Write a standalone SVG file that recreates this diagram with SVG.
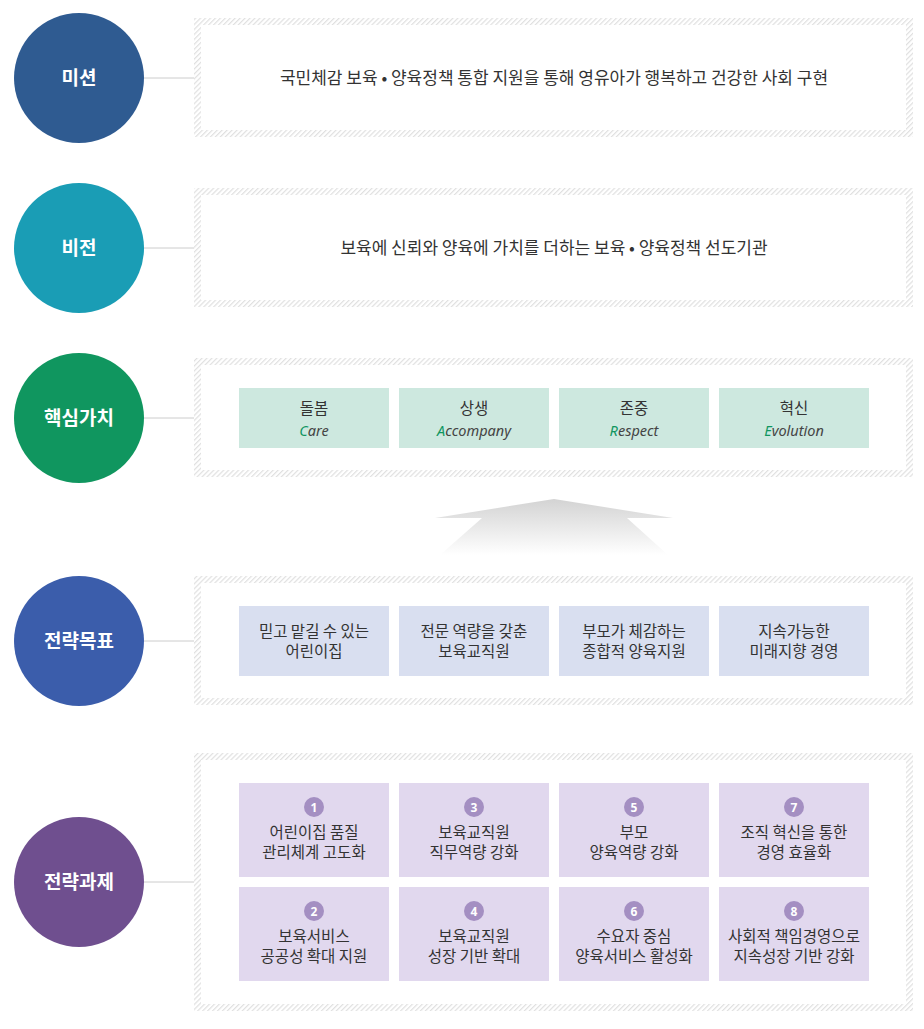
<svg xmlns="http://www.w3.org/2000/svg" width="924" height="1029" viewBox="0 0 924 1029">
<defs>
<pattern id="hatch" width="3.5" height="3.5" patternUnits="userSpaceOnUse" patternTransform="rotate(45)">
<rect width="3.5" height="3.5" fill="#ffffff"/>
<rect width="1.2" height="3.5" fill="#e0e0e0"/>
</pattern>
<linearGradient id="arrowGrad" x1="0" y1="0" x2="0" y2="1">
<stop offset="0" stop-color="#d3d3d3"/>
<stop offset="1" stop-color="#ffffff"/>
</linearGradient>
<style>
.ct{font-family:"Noto Sans CJK KR","Noto Sans",sans-serif;font-size:19px;font-weight:700;fill:#ffffff;text-anchor:middle}
.pt{font-family:"Noto Sans CJK KR","Noto Sans",sans-serif;font-size:17px;fill:#333333;text-anchor:middle}
.bt{font-family:"Noto Sans CJK KR","Noto Sans",sans-serif;font-size:15.5px;fill:#333333;text-anchor:middle}
.et{font-family:"Noto Sans","Open Sans",sans-serif;font-size:14.5px;font-style:italic;fill:#444444;text-anchor:middle}
.g{fill:#10965f}
.nt{font-family:"Noto Sans","Noto Sans CJK KR",sans-serif;font-size:12px;font-weight:700;fill:#ffffff;text-anchor:middle}
.inner{fill:#ffffff}
.conn{stroke:#cccccc;stroke-width:1;fill:none}
.vb{fill:#cde8df}
.gb{fill:#d9dff0}
.tb{fill:#e1d8ee}
.badge{fill:#a48fc2}
</style>
</defs>

<g id="connectors">
<line class="conn" x1="144" y1="78" x2="194" y2="78"/>
<line class="conn" x1="144" y1="248" x2="194" y2="248"/>
<line class="conn" x1="144" y1="418" x2="194" y2="418"/>
<line class="conn" x1="144" y1="641" x2="194" y2="641"/>
<line class="conn" x1="144" y1="882" x2="194" y2="882"/>
</g>

<g id="arrow">
<polygon points="554,499 673,518 627,518 668,555 440,555 482,518 435,518" fill="url(#arrowGrad)"/>
</g>

<g id="mission">
<circle cx="79" cy="78" r="65" fill="#2f5b91"/>
<text class="ct" x="79" y="85">미션</text>
<rect x="194" y="18" width="719" height="119" fill="url(#hatch)"/>
<rect class="inner" x="201" y="25" width="705" height="105"/>
<text class="pt" x="554" y="84">국민체감 보육 • 양육정책 통합 지원을 통해 영유아가 행복하고 건강한 사회 구현</text>
</g>

<g id="vision">
<circle cx="79" cy="248" r="65" fill="#1a9db5"/>
<text class="ct" x="79" y="255">비전</text>
<rect x="194" y="188" width="719" height="119" fill="url(#hatch)"/>
<rect class="inner" x="201" y="195" width="705" height="105"/>
<text class="pt" x="554" y="254">보육에 신뢰와 양육에 가치를 더하는 보육 • 양육정책 선도기관</text>
</g>

<g id="core-values">
<circle cx="79" cy="418" r="65" fill="#10965f"/>
<text class="ct" x="79" y="425">핵심가치</text>
<rect x="194" y="358" width="719" height="119" fill="url(#hatch)"/>
<rect class="inner" x="201" y="365" width="705" height="105"/>
<g id="value-care">
<rect class="vb" x="239" y="388" width="150" height="60"/>
<text class="bt" x="314" y="414">돌봄</text>
<text class="et" x="314" y="436"><tspan class="g">C</tspan>are</text>
</g>
<g id="value-accompany">
<rect class="vb" x="399" y="388" width="150" height="60"/>
<text class="bt" x="474" y="414">상생</text>
<text class="et" x="474" y="436"><tspan class="g">A</tspan>ccompany</text>
</g>
<g id="value-respect">
<rect class="vb" x="559" y="388" width="150" height="60"/>
<text class="bt" x="634" y="414">존중</text>
<text class="et" x="634" y="436"><tspan class="g">R</tspan>espect</text>
</g>
<g id="value-evolution">
<rect class="vb" x="719" y="388" width="150" height="60"/>
<text class="bt" x="794" y="414">혁신</text>
<text class="et" x="794" y="436"><tspan class="g">E</tspan>volution</text>
</g>
</g>

<g id="strategic-goals">
<circle cx="79" cy="641" r="65" fill="#3b5dab"/>
<text class="ct" x="79" y="648">전략목표</text>
<rect x="194" y="576" width="719" height="129" fill="url(#hatch)"/>
<rect class="inner" x="201" y="583" width="705" height="115"/>
<g id="goal-1">
<rect class="gb" x="239" y="606" width="150" height="70"/>
<text class="bt" x="314" y="637">믿고 맡길 수 있는</text>
<text class="bt" x="314" y="657">어린이집</text>
</g>
<g id="goal-2">
<rect class="gb" x="399" y="606" width="150" height="70"/>
<text class="bt" x="474" y="637">전문 역량을 갖춘</text>
<text class="bt" x="474" y="657">보육교직원</text>
</g>
<g id="goal-3">
<rect class="gb" x="559" y="606" width="150" height="70"/>
<text class="bt" x="634" y="637">부모가 체감하는</text>
<text class="bt" x="634" y="657">종합적 양육지원</text>
</g>
<g id="goal-4">
<rect class="gb" x="719" y="606" width="150" height="70"/>
<text class="bt" x="794" y="637">지속가능한</text>
<text class="bt" x="794" y="657">미래지향 경영</text>
</g>
</g>

<g id="strategic-tasks">
<circle cx="79" cy="882" r="65" fill="#6f4f8f"/>
<text class="ct" x="79" y="889">전략과제</text>
<rect x="194" y="753" width="719" height="258" fill="url(#hatch)"/>
<rect class="inner" x="201" y="760" width="705" height="244"/>
<g id="task-1">
<rect class="tb" x="239" y="783" width="150" height="94"/>
<circle class="badge" cx="314" cy="807" r="10"/>
<text class="nt" x="314" y="811.5">1</text>
<text class="bt" x="314" y="838">어린이집 품질</text>
<text class="bt" x="314" y="858">관리체계 고도화</text>
</g>
<g id="task-3">
<rect class="tb" x="399" y="783" width="150" height="94"/>
<circle class="badge" cx="474" cy="807" r="10"/>
<text class="nt" x="474" y="811.5">3</text>
<text class="bt" x="474" y="838">보육교직원</text>
<text class="bt" x="474" y="858">직무역량 강화</text>
</g>
<g id="task-5">
<rect class="tb" x="559" y="783" width="150" height="94"/>
<circle class="badge" cx="634" cy="807" r="10"/>
<text class="nt" x="634" y="811.5">5</text>
<text class="bt" x="634" y="838">부모</text>
<text class="bt" x="634" y="858">양육역량 강화</text>
</g>
<g id="task-7">
<rect class="tb" x="719" y="783" width="150" height="94"/>
<circle class="badge" cx="794" cy="807" r="10"/>
<text class="nt" x="794" y="811.5">7</text>
<text class="bt" x="794" y="838">조직 혁신을 통한</text>
<text class="bt" x="794" y="858">경영 효율화</text>
</g>
<g id="task-2">
<rect class="tb" x="239" y="887" width="150" height="94"/>
<circle class="badge" cx="314" cy="911" r="10"/>
<text class="nt" x="314" y="915.5">2</text>
<text class="bt" x="314" y="942">보육서비스</text>
<text class="bt" x="314" y="962">공공성 확대 지원</text>
</g>
<g id="task-4">
<rect class="tb" x="399" y="887" width="150" height="94"/>
<circle class="badge" cx="474" cy="911" r="10"/>
<text class="nt" x="474" y="915.5">4</text>
<text class="bt" x="474" y="942">보육교직원</text>
<text class="bt" x="474" y="962">성장 기반 확대</text>
</g>
<g id="task-6">
<rect class="tb" x="559" y="887" width="150" height="94"/>
<circle class="badge" cx="634" cy="911" r="10"/>
<text class="nt" x="634" y="915.5">6</text>
<text class="bt" x="634" y="942">수요자 중심</text>
<text class="bt" x="634" y="962">양육서비스 활성화</text>
</g>
<g id="task-8">
<rect class="tb" x="719" y="887" width="150" height="94"/>
<circle class="badge" cx="794" cy="911" r="10"/>
<text class="nt" x="794" y="915.5">8</text>
<text class="bt" x="794" y="942">사회적 책임경영으로</text>
<text class="bt" x="794" y="962">지속성장 기반 강화</text>
</g>
</g>
</svg>
